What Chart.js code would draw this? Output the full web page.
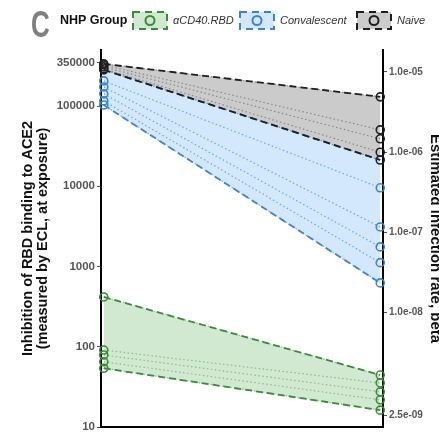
<!DOCTYPE html>
<html>
<head>
<meta charset="utf-8">
<script src="https://cdn.jsdelivr.net/npm/chart.js@4"></script>
<style>
  html, body { margin: 0; padding: 0; background: #fff; overflow: hidden; }
</style>
</head>
<body>
<canvas id="myChart" width="445" height="438"></canvas>
<script>
// groups, in legend order
const groups = ["αCD40.RBD", "Convalescent", "Naive"];

// per animal: ECL inhibition at exposure (left end) and estimated beta (right end)
const eclGreen = [418, 91, 79, 65, 54];
const betaGreen = [1.67e-9, 1.33e-9, 1.03e-9, 8.2e-10, 6.1e-10];
const eclConv = [206000, 173000, 142000, 116000, 103000];
const betaConv = [3.6e-7, 1.17e-7, 6.6e-8, 4.2e-8, 2.35e-8];
const eclNaive = [336000, 326000, 308000, 291000, 283000];
const betaNaive = [4.9e-6, 1.9e-6, 1.47e-6, 1.0e-6, 8.0e-7];

// shaded band of each group (green, convalescent, naive)
const bandUpperEcl = [418, 283000, 336000];
const bandUpperBeta = [1.67e-9, 8.0e-7, 4.9e-6];
const bandLowerEcl = [54, 103000, 283000];
const bandLowerBeta = [6.1e-10, 2.35e-8, 8.0e-7];

// axis ticks
const leftTicks = [10, 100, 1000, 10000, 100000, 350000];
const leftTickLabels = ["10", "100", "1000", "10000", "100000", "350000"];
const betaTicks = [5.3e-10, 1e-8, 1e-7, 1e-6, 1e-5];
const betaTickLabels = ["2.5e-09", "1.0e-08", "1.0e-07", "1.0e-06", "1.0e-05"];

const betaShift = Math.pow(10, 10.425); // lines up the beta axis with the ECL axis
const yMin = 10, yMax = 500000;

const lineColors = ["#3a8a3a", "#3b84d4", "#1e1e1e"];
const dotColors = ["#86bf86", "#6fa8e0", "#8a8a8a"];
const fillColors = ["rgba(140,200,140,0.40)", "rgba(150,200,248,0.42)", "rgba(140,140,140,0.45)"];

const ecl = [eclGreen, eclConv, eclNaive];
const beta = [betaGreen, betaConv, betaNaive];

const datasets = [];
// bands: naive first so it sits over convalescent
[2, 1, 0].forEach(function (g) {
    datasets.push({
        data: [{x: 0, y: bandUpperEcl[g]}, {x: 1, y: bandUpperBeta[g] * betaShift}],
        borderColor: lineColors[g], borderWidth: 1.8, borderDash: [7, 4],
        pointRadius: 0, fill: "+1", backgroundColor: fillColors[g], clip: false,
    });
    datasets.push({
        data: [{x: 0, y: bandLowerEcl[g]}, {x: 1, y: bandLowerBeta[g] * betaShift}],
        borderColor: lineColors[g], borderWidth: 1.8, borderDash: [7, 4],
        pointRadius: 0, fill: false, clip: false,
    });
});
// one dotted line per animal
for (let g = 0; g < 3; g++) {
    for (let a = 0; a < ecl[g].length; a++) {
        datasets.push({
            data: [{x: 0, y: ecl[g][a]}, {x: 1, y: beta[g][a] * betaShift}],
            borderColor: dotColors[g], borderWidth: 1.2, borderDash: [1.5, 2.5],
            pointRadius: 4, pointBorderWidth: 1.6, pointBorderColor: lineColors[g],
            pointBackgroundColor: "rgba(0,0,0,0)", fill: false, clip: false,
        });
    }
}

// title row: "C", "NHP Group" and the group keys
const keyBoxX = [133, 240, 357];
const header = {
    id: "header",
    afterDraw(chart) {
        const c = chart.ctx;
        c.save();
        c.fillStyle = "#7f7f7f";
        c.font = "bold 36px 'Liberation Sans', Arial";
        c.textBaseline = "alphabetic";
        c.translate(31, 37);
        c.scale(0.72, 1);
        c.fillText("C", 0, 0);
        c.restore();

        c.save();
        c.textBaseline = "middle";
        c.fillStyle = "#111";
        c.font = "bold 12.5px 'Liberation Sans', Arial";
        c.fillText("NHP Group", 60, 21);
        for (let g = 0; g < 3; g++) {
            const x = keyBoxX[g];
            c.fillStyle = fillColors[g];
            c.fillRect(x, 12, 34, 17);
            c.strokeStyle = lineColors[g];
            c.lineWidth = 2;
            c.setLineDash([7, 5]);
            c.strokeRect(x, 12, 34, 17);
            c.setLineDash([]);
            c.beginPath();
            c.arc(x + 17, 20.5, 4.5, 0, Math.PI * 2);
            c.stroke();
            c.fillStyle = "#333";
            c.font = "italic 11px 'Liberation Sans', Arial";
            c.fillText(groups[g], x + 40, 21);
        }
        c.restore();
    },
};

const ctx = document.getElementById("myChart").getContext("2d");
const myChart = new Chart(ctx, {
    type: "line",
    data: { datasets: datasets },
    plugins: [header],
    options: {
        responsive: false,
        animation: false,
        events: [],
        layout: { padding: { top: 50, left: 0, right: 0, bottom: 0 } },
        plugins: {
            legend: { display: false },
            tooltip: { enabled: false },
            filler: { drawTime: "beforeDatasetsDraw" },
        },
        scales: {
            x: {
                type: "linear", min: -0.01, max: 1.01,
                ticks: { display: false },
                grid: { display: false },
                border: { color: "#000", width: 2 },
                afterFit(s) { s.height = 11; },
            },
            y: {
                type: "logarithmic", position: "left", min: yMin, max: yMax,
                afterBuildTicks(s) { s.ticks = leftTicks.map(v => ({ value: v })); },
                ticks: {
                    autoSkip: false, padding: 2, color: "#555",
                    font: { family: "'Liberation Sans', Arial", size: 11.5, weight: "bold" },
                    callback: (v, i) => leftTickLabels[i],
                },
                grid: { drawOnChartArea: false, tickLength: 4, color: "#555" },
                border: { color: "#000", width: 2 },
                title: {
                    display: true,
                    text: ["Inhibition of RBD binding to ACE2", "(measured by ECL, at exposure)"],
                    color: "#111",
                    font: { family: "'Liberation Sans', Arial", size: 14.5, weight: "bold", lineHeight: 1.05 },
                    padding: { top: 20, bottom: 0 },
                },
                afterFit(s) { s.width = 101; },
            },
            y2: {
                type: "logarithmic", position: "right",
                min: yMin / betaShift, max: yMax / betaShift,
                afterBuildTicks(s) { s.ticks = betaTicks.map(v => ({ value: v })); },
                ticks: {
                    autoSkip: false, padding: 2, color: "#555",
                    font: { family: "'Liberation Sans', Arial", size: 10, weight: "bold" },
                    callback: (v, i) => betaTickLabels[i],
                },
                grid: { drawOnChartArea: false, tickLength: 4, color: "#555" },
                border: { color: "#000", width: 2 },
                title: {
                    display: true,
                    text: "Estimated infection rate, beta",
                    color: "#111",
                    font: { family: "'Liberation Sans', Arial", size: 15, weight: "bold" },
                    padding: { top: 1, bottom: 0 },
                },
                afterFit(s) { s.width = 62; },
            },
        },
    },
});
</script>
</body>
</html>
